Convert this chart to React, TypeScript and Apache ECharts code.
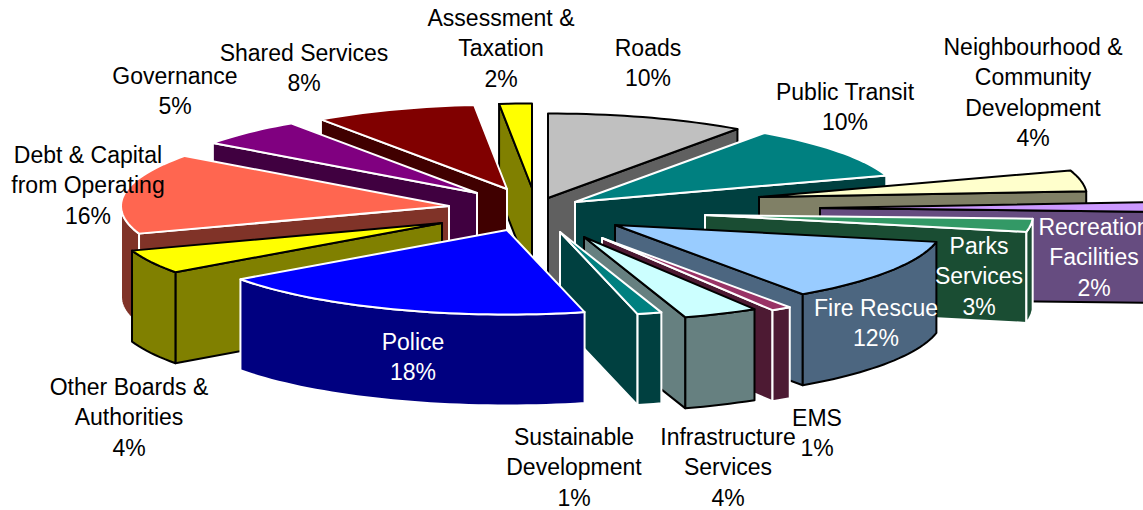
import React, { useEffect, useRef } from "react";
import * as echarts from "echarts";

const names = ["Roads","Public Transit","Neighbourhood & Community Development","Recreation Facilities","Parks Services","Fire Rescue","EMS","Infrastructure Services","Sustainable Development","Police","Other Boards & Authorities","Debt & Capital from Operating","Governance","Shared Services","Assessment & Taxation"];
const labelPercents = [10,10,4,2,3,12,1,4,1,18,4,16,5,8,2];
// slice sweeps (% of the full circle)
const sweeps = [9.8,10.1,4,1.8,2.5,12.1,1.0,3.7,1.2,18.9,4.6,15.4,5.3,8,1.6];
const labelLines = [
  ["Roads"],["Public Transit"],["Neighbourhood &","Community","Development"],["Recreation","Facilities"],["Parks","Services"],["Fire Rescue"],["EMS"],["Infrastructure","Services"],["Sustainable","Development"],["Police"],["Other Boards &","Authorities"],["Debt & Capital","from Operating"],["Governance"],["Shared Services"],["Assessment &","Taxation"],
];

// layout & style
const topColors = ["#C0C0C0","#008080","#FFFFCC","#CC99FF","#339966","#99CCFF","#993366","#CCFFFF","#008080","#0000FF","#FFFF00","#FF6650","#800080","#800000","#FFFF00"];
const sideColors = ["#606060","#004040","#808066","#664C80","#1A4D33","#4C6680","#4D1A33","#668080","#004040","#000080","#808000","#803328","#400040","#400000","#808000"];
const outline = ["#000","#fff","#000","#000","#fff","#000","#fff","#000","#fff","#fff","#000","#fff","#fff","#fff","#000"];
const shiftX = [18,45,229,290,175,85,72,54,30,-23,-88,-81,-53,-23,2];
const shiftY = [-14,-10,-15,-4,3,13,26,25,20,18,11,-6,-19,-23,-24];
const drawOrder = [14,13,12,11,10,0,1,2,3,4,5,6,7,8,9];
const labelX = [648,845,1033,1094,979,876,817,728,574,413,129,88,175,304,501];
const labelY = [48,92,47,227,246,308,418,437,437,342,387,155,76,53,18];
const labelColor = ["#000","#000","#000","#fff","#fff","#fff","#000","#000","#000","#fff","#000","#000","#000","#000","#000"];
const CX = 530, CY = 212, RX = 328, KY = 84.5, H = 91, LINE = 30.4;

const total = sweeps.reduce((a, b) => a + b, 0);
const starts: number[] = [];
sweeps.reduce((acc, v, i) => { starts[i] = acc; return acc + v; }, 0);
const toRad = (p: number) => (p / total) * Math.PI * 2;

function arc(ax: number, ay: number, a0: number, a1: number, dy = 0) {
  const n = Math.max(2, Math.ceil(Math.abs(a1 - a0) / 0.03));
  const pts: number[][] = [];
  for (let i = 0; i <= n; i++) {
    const t = a0 + ((a1 - a0) * i) / n;
    pts.push([ax + RX * Math.sin(t), ay - KY * Math.cos(t) + dy]);
  }
  return pts;
}

function radialWall(ax: number, ay: number, t: number) {
  const ex = ax + RX * Math.sin(t), ey = ay - KY * Math.cos(t);
  return [[ax, ay], [ex, ey], [ex, ey + H], [ax, ay + H]];
}

function renderSlice(_: any, api: any) {
  const i = api.value(0) as number;
  const a0 = toRad(starts[i]), a1 = toRad(starts[i] + sweeps[i]);
  const ax = CX + shiftX[i], ay = CY + shiftY[i];
  const side = { fill: sideColors[i], stroke: outline[i], lineWidth: 2, lineJoin: "round" };
  const children: any[] = [];
  if (a0 > Math.PI) children.push({ type: "polygon", shape: { points: radialWall(ax, ay, a0) }, style: side });
  if (a1 < Math.PI) children.push({ type: "polygon", shape: { points: radialWall(ax, ay, a1) }, style: side });
  const f0 = Math.max(a0, Math.PI / 2), f1 = Math.min(a1, (Math.PI * 3) / 2);
  if (f1 > f0) {
    const topArc = arc(ax, ay, f0, f1);
    const botArc = arc(ax, ay, f0, f1, H).reverse();
    children.push({ type: "polygon", shape: { points: [...topArc, ...botArc] }, style: side });
  }
  children.push({
    type: "polygon",
    shape: { points: [[ax, ay], ...arc(ax, ay, a0, a1)] },
    style: { fill: topColors[i], stroke: outline[i], lineWidth: 2, lineJoin: "round" },
  });
  return { type: "group", children };
}

function renderLabel(_: any, api: any) {
  const i = api.value(0) as number;
  const lines = [...labelLines[i], `${labelPercents[i]}%`];
  return {
    type: "group",
    children: lines.map((text, k) => ({
      type: "text",
      style: {
        text,
        x: labelX[i],
        y: labelY[i] + k * LINE,
        fill: labelColor[i],
        align: "center",
        verticalAlign: "middle",
        font: '23px "Liberation Sans", Arial, sans-serif',
      },
    })),
  };
}

export default function App() {
  const ref = useRef<HTMLDivElement>(null);
  useEffect(() => {
    document.body.style.margin = "0";
    const chart = echarts.init(ref.current!, undefined, { renderer: "svg" });
    chart.setOption({
      animation: false,
      backgroundColor: "#fff",
      series: [
        {
          type: "custom",
          name: "Slices",
          coordinateSystem: "none",
          silent: true,
          z: 1,
          data: drawOrder.map((i) => ({ value: [i], name: names[i] })),
          renderItem: renderSlice,
        },
        {
          type: "custom",
          name: "Labels",
          coordinateSystem: "none",
          silent: true,
          z: 2,
          data: names.map((n, i) => ({ value: [i], name: n })),
          renderItem: renderLabel,
        },
      ],
    });
    return () => chart.dispose();
  }, []);
  return <div ref={ref} style={{ width: 1143, height: 510 }} />;
}
